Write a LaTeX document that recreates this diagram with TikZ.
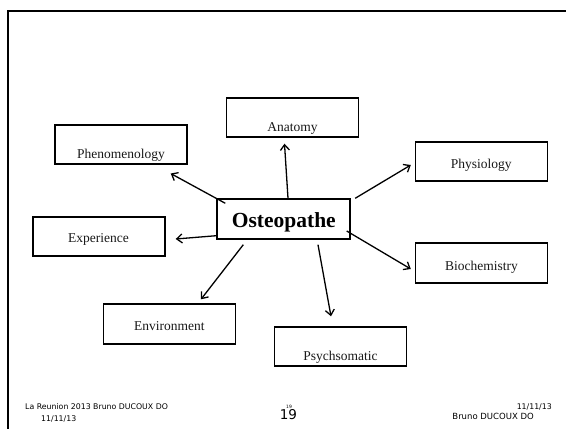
\documentclass[tikz,border=0pt]{standalone}
\usepackage{fontspec}
\setmainfont{Liberation Serif}
\newfontfamily\footfont{DejaVu Sans}
\usetikzlibrary{arrows.meta}
\begin{document}
\begin{tikzpicture}[x=1pt,y=-1pt,
  box/.style={draw=black, line width=1.4pt, minimum width=132pt, minimum height=39pt, inner sep=0pt},
  lbl/.style={inner sep=0pt, anchor=base, font=\fontsize{13.5}{15}\selectfont, text=black!90},
  title/.style={inner sep=0pt, anchor=base, font=\fontsize{21.5}{24}\selectfont\bfseries},
  foot/.style={inner sep=0pt, font=\footfont\fontsize{7.8}{9}\selectfont},
  arr/.style={line width=1.3pt, -{Straight Barb[length=5.5pt,width=9pt]}}]
\useasboundingbox (0,0) rectangle (566,429);
\fill[white] (0,0) rectangle (566,429);
% frame
\draw[line width=2.5pt] (8,429) -- (8,11) -- (566,11);
% boxes
\node[box] (anat) at (292.5,117.5) {};
\node[box] (phen) at (121,144.3) {};
\node[box] (phys) at (481.5,161.5) {};
\node[box, minimum width=133pt, minimum height=40pt] (oste) at (283.5,219) {};
\node[box] (expe) at (99,236.5) {};
\node[box, minimum height=40pt] (bioc) at (481.5,263) {};
\node[box, minimum height=40pt] (envi) at (169.5,324) {};
\node[box] (psyc) at (340.7,346.5) {};
% labels
\node[lbl] (anatT) at (292.5,131.5) {Anatomy};
\node[lbl] (phenT) at (121,158) {Phenomenology};
\node[lbl] (physT) at (481.3,168) {Physiology};
\node[title] (osteT) at (283.8,227.7) {Osteopathe};
\node[lbl] (expeT) at (98.5,242.7) {Experience};
\node[lbl] (biocT) at (481.5,270) {Biochemistry};
\node[lbl] (enviT) at (169.3,330) {Environment};
\node[lbl] (psycT) at (340.5,360) {Psychsomatic};
% arrows
\draw[arr] ([xshift=4.5pt]oste.north) -- ([xshift=-8pt,yshift=-6pt]anat.south);
\draw[arr] ([xshift=9pt,yshift=-5pt]oste.north west) -- ([xshift=-17pt,yshift=-9pt]phen.south east);
\draw[arr] ([xshift=4.5pt]oste.north east) -- ([xshift=-4pt,yshift=-3.5pt]phys.west);
\draw[arr] ([yshift=4pt]oste.south west) -- ([xshift=10pt,yshift=-2.5pt]expe.east);
\draw[arr] ([xshift=-4pt,yshift=-12pt]oste.east) -- ([xshift=-4pt,yshift=-6pt]bioc.west);
\draw[arr] ([xshift=27pt,yshift=-5pt]oste.south west) -- ([xshift=31.5pt,yshift=4pt]envi.north);
\draw[arr] ([xshift=34.5pt,yshift=-5pt]oste.south) -- ([xshift=-9.7pt,yshift=10pt]psyc.north);
% footer
\node[foot, anchor=base west] (f1) at (25,409) {La Reunion 2013 Bruno DUCOUX DO};
\node[foot, anchor=base west] (f2) at (41,421) {11/11/13};
\node[inner sep=0pt, anchor=base, font=\footfont\fontsize{4.5}{5}\selectfont] (f3) at (289,408) {19};
\node[inner sep=0pt, anchor=base, font=\footfont\fontsize{13.5}{15}\selectfont] (f4) at (288.5,419) {19};
\node[foot, anchor=base east] (f5) at (552,409) {11/11/13};
\node[foot, anchor=base east, font=\footfont\fontsize{8.5}{10}\selectfont] (f6) at (534,419) {Bruno DUCOUX DO};
\end{tikzpicture}
\end{document}
